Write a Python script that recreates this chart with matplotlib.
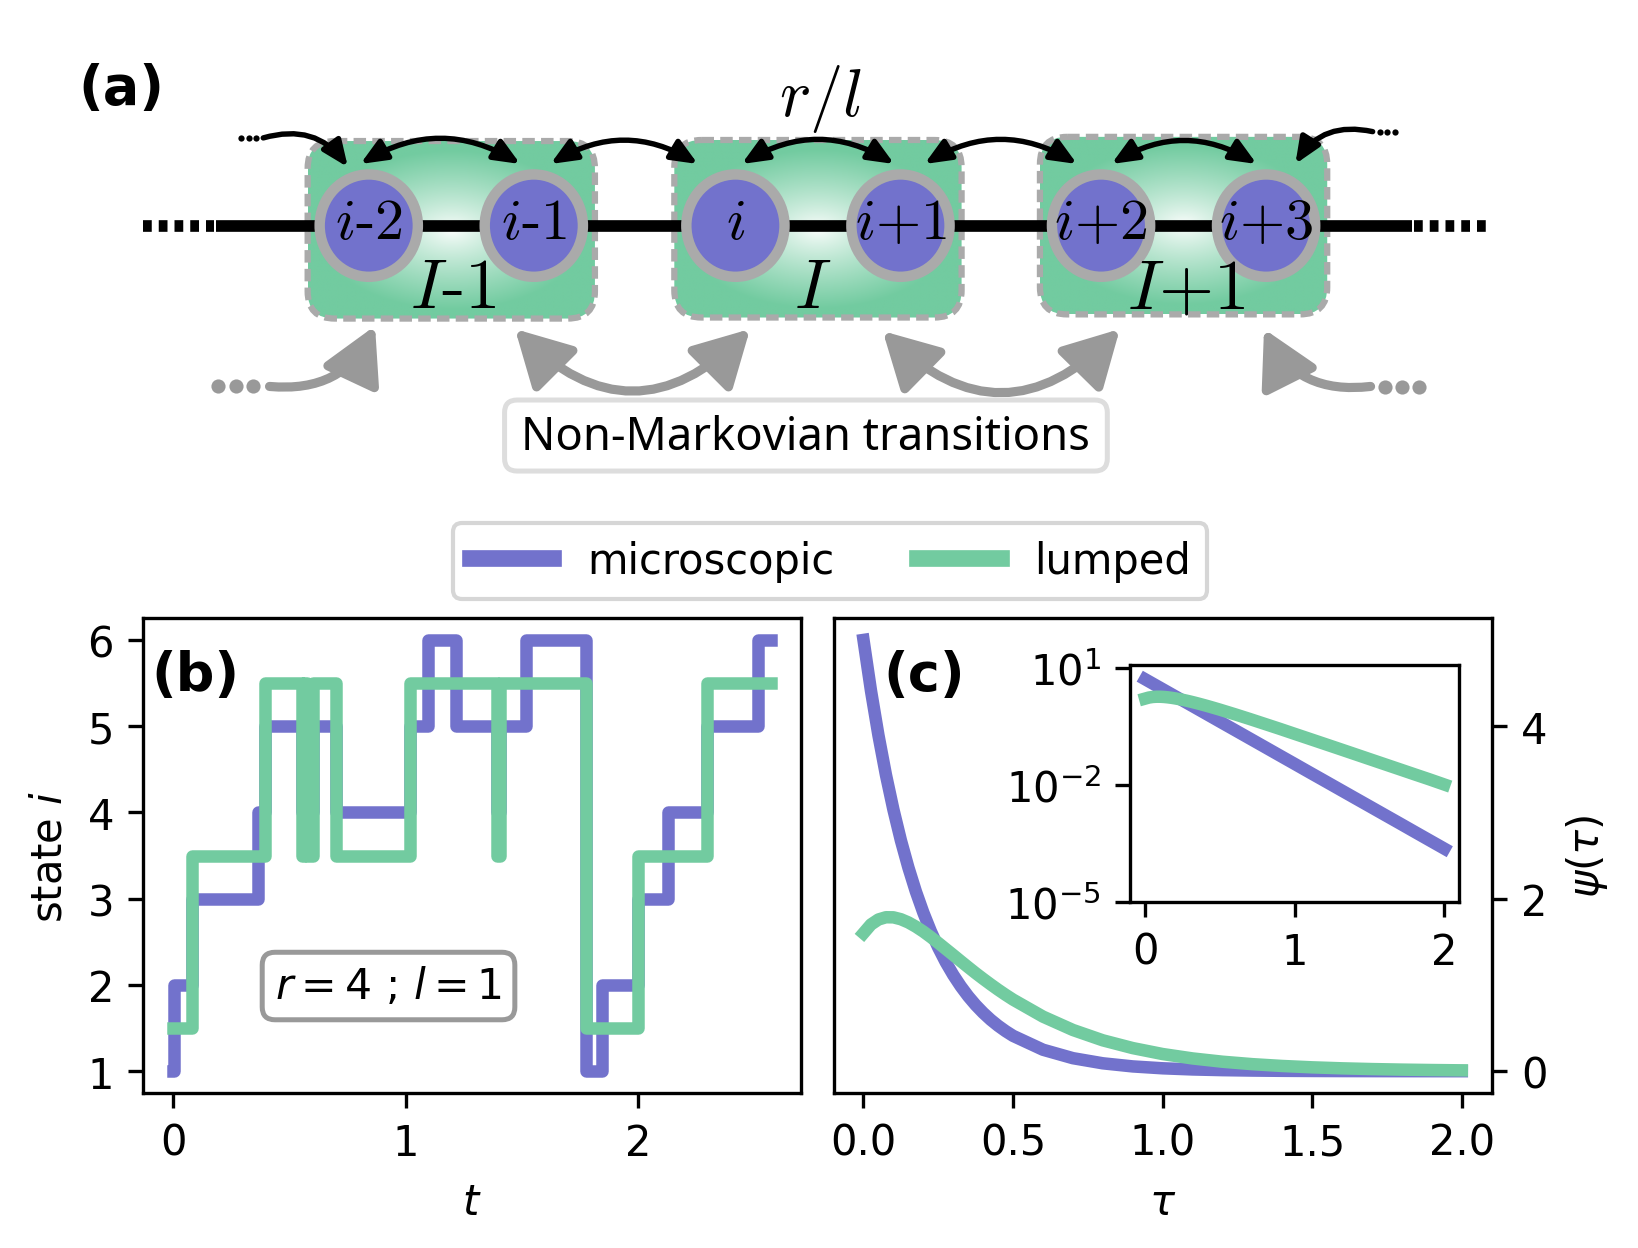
import numpy as np
import matplotlib
matplotlib.use("Agg")
import matplotlib.pyplot as plt
from matplotlib.colors import to_rgb
from matplotlib.lines import Line2D
from matplotlib.patches import Ellipse, FancyArrowPatch, FancyBboxPatch
from matplotlib.ticker import NullLocator

PURPLE = "#7272cc"
GREEN = "#72cba0"
GREY = "#999999"

# (b) sample trajectory: jump times and the state entered at each time
jump_times = [0.0, 0.005, 0.08, 0.365, 0.395, 0.555, 0.565, 0.577, 0.603,
              0.70, 1.02, 1.095, 1.215, 1.395, 1.405, 1.52, 1.775, 1.845,
              2.0, 2.13, 2.295, 2.517, 2.572]
micro_state = [1, 2, 3, 4, 5, 4, 5, 4, 5,
               4, 5, 6, 5, 4, 5, 6, 1, 2,
               3, 4, 5, 6, 6]
lumped_state = [1.5, 1.5, 3.5, 3.5, 5.5, 3.5, 5.5, 3.5, 5.5,
                3.5, 5.5, 5.5, 5.5, 3.5, 5.5, 5.5, 1.5, 1.5,
                3.5, 3.5, 5.5, 5.5, 5.5]

# (c) waiting-time densities
tau = [0.0, 0.025, 0.05, 0.075, 0.1, 0.125, 0.15, 0.175, 0.2, 0.225, 0.25,
       0.275, 0.3, 0.325, 0.35, 0.375, 0.4, 0.425, 0.45, 0.475, 0.5,
       0.6, 0.7, 0.8, 0.9, 1.0, 1.1, 1.2, 1.3, 1.4, 1.5, 1.6, 1.7, 1.8,
       1.9, 2.0]
psi_micro = [5.000, 4.412, 3.894, 3.436, 3.033, 2.676, 2.362, 2.084, 1.839,
             1.623, 1.433, 1.264, 1.116, 0.985, 0.869, 0.767, 0.677, 0.597,
             0.527, 0.465, 0.410,
             0.249, 0.151, 0.0916, 0.0555, 0.0337, 0.0204, 0.0124, 0.00752,
             0.00456, 0.00277, 0.00168, 0.00102, 0.000617, 0.000374, 0.000227]
psi_lumped = [1.600, 1.701, 1.759, 1.785, 1.784, 1.762, 1.725, 1.676, 1.619,
              1.555, 1.487, 1.417, 1.347, 1.276, 1.206, 1.137, 1.071, 1.007,
              0.945, 0.886, 0.830,
              0.633, 0.478, 0.358, 0.268, 0.199, 0.148, 0.110, 0.0817,
              0.0606, 0.0449, 0.0333, 0.0247, 0.0183, 0.0136, 0.0100]

# (a) schematic labels
node_labels = ["$i$-2", "$i$-1", "$i$", "$i$+1", "$i$+2", "$i$+3"]
group_labels = ["$I$-1", "$I$", "$I$+1"]

plt.rcParams.update({"font.size": 10})

fig = plt.figure(figsize=(5.46, 4.1633), dpi=300)

# ---------------- panel (a): schematic ----------------
A_H = 480
ax_a = fig.add_axes([0, 1 - A_H / 1196, 1, A_H / 1196])
ax_a.set_xlim(0, 1568)
ax_a.set_ylim(A_H, 0)
ax_a.axis("off")

group_cx = [432, 783, 1133]
group_cy = [221, 220, 217]
box_w, box_h = 275, 170
node_dx = 79
chain_y = 217

green_rgb = np.array(to_rgb(GREEN))
yy, xx = np.mgrid[-1:1:140j, -1:1:220j]
rr = np.clip(np.hypot(xx / 0.95, yy / 0.9), 0, 1) ** 0.8
grad = (1 - rr)[..., None] * np.ones(3) + rr[..., None] * green_rgb

for cx, cy, lab in zip(group_cx, group_cy, group_labels):
    box = FancyBboxPatch((cx - box_w / 2, cy - box_h / 2), box_w, box_h,
                         boxstyle="round,pad=0,rounding_size=26",
                         fc="none", ec="#aaaaaa", lw=1.5, ls=(0, (2.0, 1.0)),
                         zorder=2)
    ax_a.add_patch(box)
    im = ax_a.imshow(grad, extent=(cx - box_w / 2, cx + box_w / 2,
                                   cy + box_h / 2, cy - box_h / 2),
                     aspect="auto", zorder=1, interpolation="bilinear")
    im.set_clip_path(box)
    ax_a.text(cx + 2 if lab != "$I$" else cx - 5, 278, lab, fontsize=17,
              family="cmr10", math_fontfamily="cm", ha="center",
              va="center", zorder=6)

ax_a.set_xlim(0, 1568)
ax_a.set_ylim(A_H, 0)

# chain
ax_a.plot([207, 1352], [chain_y, chain_y], color="k", lw=2.8,
          solid_capstyle="butt", zorder=3)
ax_a.plot([137, 205], [chain_y, chain_y], color="k", lw=2.8,
          ls=(0, (0.75, 0.6)), dash_capstyle="butt", zorder=3)
ax_a.plot([1354, 1428], [chain_y, chain_y], color="k", lw=2.8,
          ls=(0, (0.75, 0.6)), dash_capstyle="butt", zorder=3)

node_x = []
for cx in group_cx:
    node_x += [cx - node_dx, cx + node_dx]
for x, lab in zip(node_x, node_labels):
    ax_a.add_patch(Ellipse((x, chain_y), 104, 108, fc="#aaaaaa", ec="none",
                           zorder=4))
    ax_a.add_patch(Ellipse((x, chain_y), 84, 88, fc=PURPLE, ec="none",
                           zorder=4.5))
    ax_a.text(x, chain_y - 2, lab, fontsize=14, family="cmr10",
              math_fontfamily="cm", ha="center", va="center", zorder=6)

ax_a.text(785, 95, "$r/l$", fontsize=16, math_fontfamily="cm",
          ha="center", va="center")


def arc_arrow(a, b, rad, style, color, lw, ms):
    ax_a.add_patch(FancyArrowPatch(a, b, connectionstyle=f"arc3,rad={rad}",
                                   arrowstyle=style, color=color, lw=lw,
                                   mutation_scale=ms, shrinkA=0, shrinkB=0,
                                   zorder=5))


black_style = "<|-|>,head_length=0.4,head_width=0.17"
black_one = "-|>,head_length=0.4,head_width=0.17"
for xa, xb in [(345, 498), (527, 668), (710, 856), (885, 1031), (1064, 1203)]:
    arc_arrow((xa, 158), (xb, 158), -0.3, black_style, "k", 1.3, 13)
arc_arrow((252, 133), (333, 161), -0.35, black_one, "k", 1.3, 13)
arc_arrow((1314, 127), (1240, 158), 0.35, black_one, "k", 1.3, 13)
ax_a.plot([231, 238, 245], [133, 133, 133], "o", color="k", ms=1.5, mew=0)
ax_a.plot([1321, 1328, 1335], [127, 127, 127], "o", color="k", ms=1.5,
          mew=0)

grey_style = "<|-|>,head_length=0.4,head_width=0.22"
grey_one = "-|>,head_length=0.4,head_width=0.22"
arc_arrow((493, 316), (718, 316), 0.5, grey_style, GREY, 2.2, 28)
arc_arrow((845, 318), (1072, 316), 0.5, grey_style, GREY, 2.2, 28)
arc_arrow((258, 371), (359, 313), 0.35, grey_one, GREY, 2.2, 28)
arc_arrow((1312, 371), (1210, 316), -0.35, grey_one, GREY, 2.2, 28)
ax_a.plot([209, 226, 242], [371, 371, 371], "o", color=GREY, ms=3.4, mew=0)
ax_a.plot([1326, 1342, 1358], [372, 372, 372], "o", color=GREY, ms=3.4,
          mew=0)

ax_a.add_patch(FancyBboxPatch((483, 384), 577, 68,
                              boxstyle="round,pad=0,rounding_size=12",
                              fc="white", ec="#dddddd", lw=1.2, zorder=5))
ax_a.text(771, 419, "Non-Markovian transitions", fontsize=10.9,
          family="Noto Sans", ha="center", va="center", zorder=6)
ax_a.text(75, 60, "(a)", fontsize=13, fontweight="bold", ha="left",
          va="top")

# ---------------- panel (b): trajectory ----------------
ax_b = fig.add_axes([0.0874, 0.1243, 0.4016, 0.3798])
ax_b.plot(jump_times, micro_state, drawstyle="steps-post", color=PURPLE,
          lw=3, label="microscopic")
ax_b.plot(jump_times, lumped_state, drawstyle="steps-post", color=GREEN,
          lw=3, label="lumped")
ax_b.set_yticks([1, 2, 3, 4, 5, 6])
ax_b.set_xticks([0, 1, 2])
ax_b.set_xlabel("$t$")
ax_b.set_ylabel("state $i$")
ax_b.text(0.013, 0.936, "(b)", transform=ax_b.transAxes, fontsize=13,
          fontweight="bold", va="top", ha="left")
ax_b.text(0.373, 0.225, "$r=4$ ; $l=1$", transform=ax_b.transAxes,
          fontsize=10.2, ha="center", va="center",
          bbox=dict(boxstyle="round,pad=0.3", fc="white", ec=GREY, lw=1.2))

# ---------------- panel (c): waiting times ----------------
ax_c = fig.add_axes([0.5089, 0.1243, 0.4018, 0.3798])
ax_c.plot(tau, psi_micro, color=PURPLE, lw=3)
ax_c.plot(tau, psi_lumped, color=GREEN, lw=3)
ax_c.yaxis.tick_right()
ax_c.yaxis.set_label_position("right")
ax_c.set_yticks([0, 2, 4])
ax_c.set_xticks([0.0, 0.5, 1.0, 1.5, 2.0])
ax_c.set_xlabel(r"$\tau$")
ax_c.set_ylabel(r"$\psi(\tau)$")
ax_c.text(0.075, 0.936, "(c)", transform=ax_c.transAxes, fontsize=13,
          fontweight="bold", va="top", ha="left")

ax_in = fig.add_axes([0.690, 0.2774, 0.2009, 0.189])
ax_in.plot(tau, psi_micro, color=PURPLE, lw=3)
ax_in.plot(tau, psi_lumped, color=GREEN, lw=3)
ax_in.set_yscale("log")
ax_in.set_ylim(1e-5, 11.3)
ax_in.set_yticks([1e-5, 1e-2, 1e1])
ax_in.yaxis.set_minor_locator(NullLocator())
ax_in.set_xticks([0, 1, 2])

handles = [Line2D([], [], color=PURPLE, lw=4), Line2D([], [], color=GREEN, lw=4)]
fig.legend(handles, ["microscopic", "lumped"], loc="center",
           bbox_to_anchor=(0.507, 0.55), ncol=2, fontsize=10,
           handlelength=2.0, columnspacing=2.0, borderpad=0.4)

fig.savefig("out.png", dpi=300)
